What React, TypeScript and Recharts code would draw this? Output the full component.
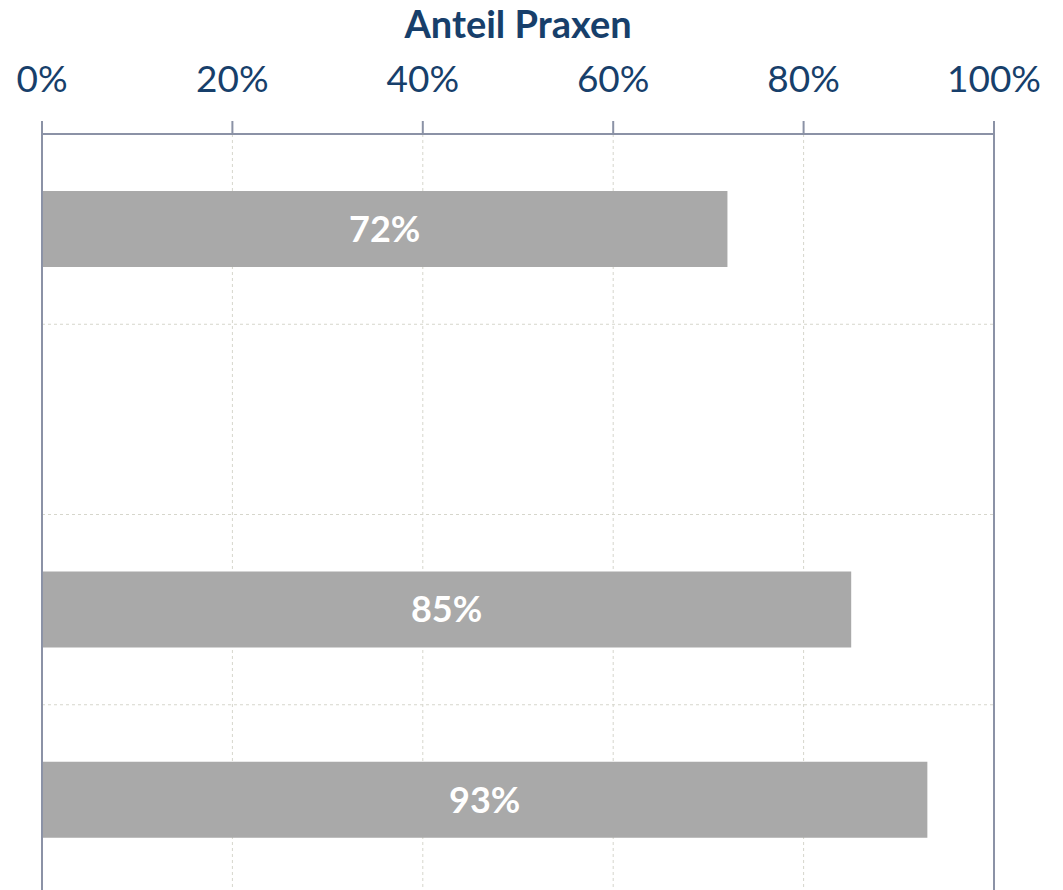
import React from "react";
import {
  Bar,
  BarChart,
  CartesianGrid,
  LabelList,
  ReferenceLine,
  XAxis,
  YAxis
} from "recharts";

const categories = ["Gruppe 1", "Gruppe 2", "Gruppe 3", "Gruppe 4"];
const shares: (number | null)[] = [72, null, 85, 93];
const xTicks = [0, 20, 40, 60, 80, 100];

const data = categories.map((name, i) => ({ name, share: shares[i] }));

const textBlue = "#173f6b";
const axisGray = "#8b92a6";
const gridGray = "#d6d6cc";
const barGray = "#a9a9a9";
const font = "Lato, 'Open Sans', sans-serif";

export default function App() {
  return (
    <div
      style={{
        position: "fixed",
        top: 0,
        left: 0,
        width: 1063,
        height: 890,
        overflow: "hidden",
        background: "#fff",
        fontFamily: font
      }}
    >
      <div
        style={{
          position: "absolute",
          top: 0,
          left: 0,
          width: 1036,
          textAlign: "center",
          color: textBlue,
          fontWeight: 700,
          fontSize: 38,
          lineHeight: "46px"
        }}
      >
        Anteil Praxen
      </div>
      <BarChart
        width={1063}
        height={900}
        data={data}
        layout="vertical"
        margin={{ top: 0, right: 69, bottom: 5, left: 42 }}
        barSize={76}
      >
        <CartesianGrid
          horizontal={false}
          stroke={gridGray}
          strokeDasharray="3 3"
        />
        {/* dashed separators between the category rows */}
        {categories.slice(1).map((c) => (
          <ReferenceLine
            key={c}
            y={c}
            position="start"
            stroke={gridGray}
            strokeDasharray="3 3"
          />
        ))}
        <XAxis
          type="number"
          orientation="top"
          domain={[0, 100]}
          ticks={xTicks}
          tickFormatter={(v) => `${v}%`}
          height={134}
          tickSize={13}
          tickMargin={29}
          interval={0}
          stroke={axisGray}
          axisLine={{ stroke: axisGray, strokeWidth: 2 }}
          tickLine={{ stroke: axisGray, strokeWidth: 2 }}
          tick={{ fill: textBlue, fontSize: 37, fontFamily: font }}
        />
        <YAxis
          type="category"
          dataKey="name"
          width={0}
          tick={false}
          tickLine={false}
          axisLine={false}
        />
        <ReferenceLine x={0} stroke={axisGray} strokeWidth={2} />
        <ReferenceLine x={100} stroke={axisGray} strokeWidth={2} />
        <Bar dataKey="share" fill={barGray} isAnimationActive={false}>
          <LabelList
            dataKey="share"
            position="center"
            formatter={(v: any) => (v == null ? "" : `${v}%`)}
            fill="#ffffff"
            style={{ fontWeight: 700, fontSize: 36, fontFamily: font }}
          />
        </Bar>
      </BarChart>
    </div>
  );
}
